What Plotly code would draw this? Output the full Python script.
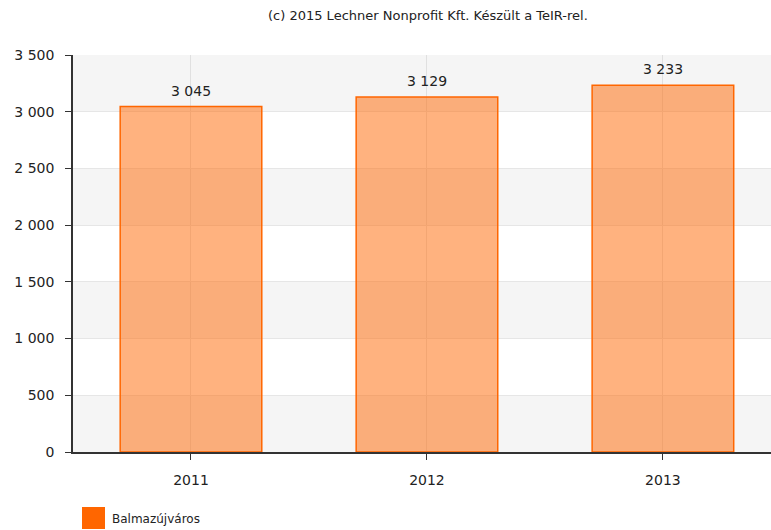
import plotly.graph_objects as go

years = ["2011", "2012", "2013"]
values = [3045, 3129, 3233]
series_name = "Balmazújváros"
title_text = "(c) 2015 Lechner Nonprofit Kft. Készült a TeIR-rel."
y_ticks = [0, 500, 1000, 1500, 2000, 2500, 3000, 3500]

FONT = "DejaVu Sans"
ORANGE = "#ff6600"

fig = go.Figure()
fig.add_trace(go.Bar(
    x=years, y=values, width=0.6,
    marker=dict(color="rgba(255,102,0,0.5)", line=dict(color=ORANGE, width=1.5)),
    showlegend=False, hoverinfo="skip",
))

W, H = 771, 530
ML, MT, MB = 73, 55, 78
PW, PH = W - ML, H - MT - MB

def px_x(x):
    return (x - ML) / PW

def px_y(y):
    return (H - MB - y) / PH

# value labels above bars (x given as category index)
annotations = [
    dict(x=i, y=v, xref="x", yref="y", text=f"{v:,}".replace(",", " "),
         showarrow=False, yanchor="bottom", yshift=6,
         font=dict(family=FONT, size=14, color="#222"))
    for i, v in enumerate(values)
]
# legend text
annotations.append(dict(x=px_x(110), y=px_y(519), xref="paper", yref="paper",
                        text=series_name, showarrow=False,
                        xanchor="left", yanchor="middle",
                        font=dict(family=FONT, size=12, color="#222")))

# alternating background bands
shapes = []
for i in range(len(y_ticks) - 1):
    if (len(y_ticks) - 2 - i) % 2 == 0:
        shapes.append(dict(type="rect", xref="paper", yref="y", x0=0, x1=1,
                           y0=y_ticks[i], y1=y_ticks[i + 1],
                           fillcolor="#f5f5f5", line=dict(width=0), layer="below"))

# legend swatch
shapes.append(dict(type="rect", xref="paper", yref="paper",
                   x0=px_x(82), x1=px_x(105), y0=px_y(529), y1=px_y(507),
                   fillcolor=ORANGE, line=dict(width=0)))

fig.update_layout(
    width=W, height=H,
    margin=dict(l=ML, r=0, t=MT, b=MB, autoexpand=False),
    paper_bgcolor="white", plot_bgcolor="white",
    separators=", ",
    shapes=shapes, annotations=annotations,
    showlegend=False,
    title=dict(text=title_text, x=0.555, xanchor="center", y=1 - 15 / H, yanchor="middle",
               font=dict(family=FONT, size=13, color="#222")),
    font=dict(family=FONT, color="#222"),
    xaxis=dict(type="category", range=[-0.5, 2.458], showline=True, linecolor="#333",
               linewidth=1.5, ticks="outside", ticklen=6, tickcolor="#333",
               automargin=False, ticklabelstandoff=8,
               showgrid=True, gridcolor="rgba(200,200,200,0.45)", gridwidth=1,
               tickfont=dict(family=FONT, size=14, color="#222")),
    yaxis=dict(range=[0, 3500], tickvals=y_ticks, tickformat=",",
               showline=True, linecolor="#333", linewidth=1.5,
               ticks="outside", ticklen=6, tickcolor="#333", automargin=False,
               ticklabelstandoff=8,
               showgrid=True, gridcolor="#e6e6e6", gridwidth=1, zeroline=False,
               tickfont=dict(family=FONT, size=14, color="#222")),
)

fig.write_html("out.html", config={"displayModeBar": False},
               post_script="document.body.style.margin='0';")
